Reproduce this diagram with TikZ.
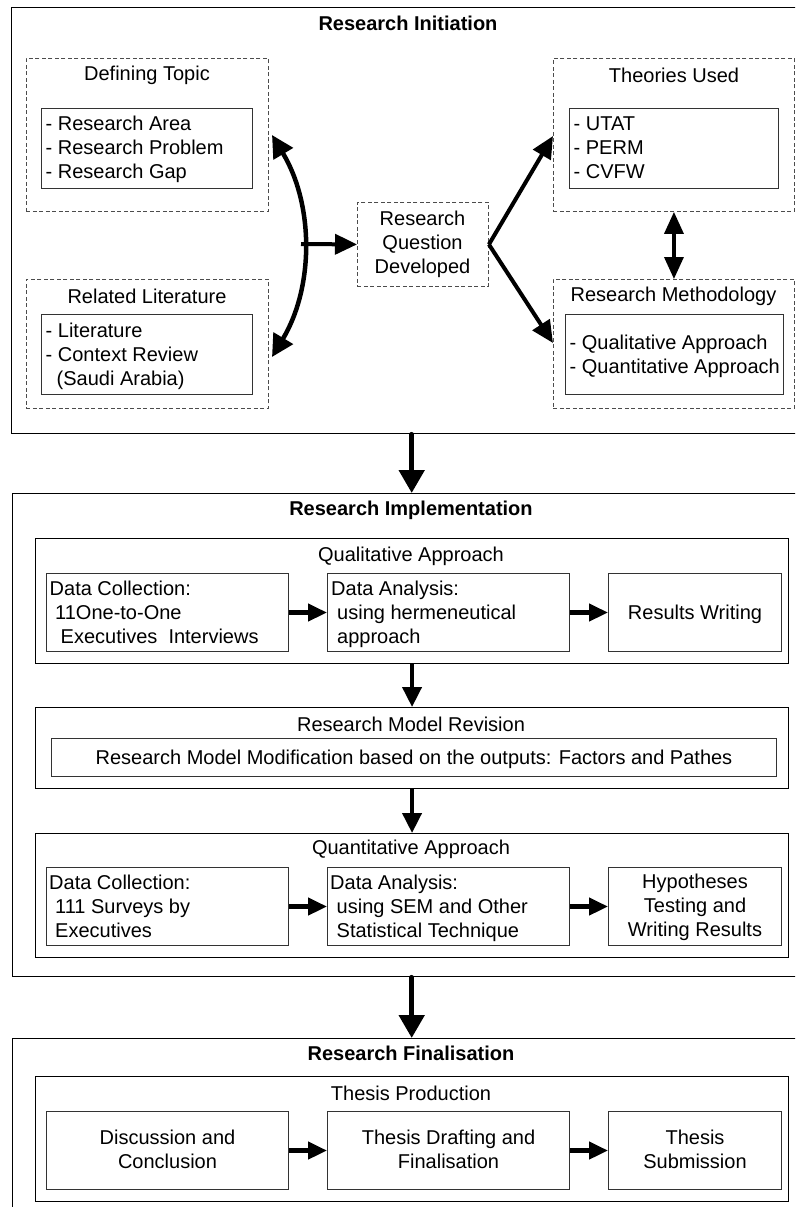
\documentclass[tikz,border=0pt]{standalone}
\usepackage{fontspec}
\setmainfont{Liberation Sans}
\usetikzlibrary{arrows.meta}
\begin{document}
\begin{tikzpicture}[x=1pt,y=-1pt,
  txt/.style={inner sep=0pt, yshift=-1.5pt, font=\fontsize{20}{24}\selectfont},
  ttl/.style={inner sep=0pt, yshift=-0.5pt, font=\fontsize{20}{24}\selectfont\bfseries},
  outer/.style={draw=black, line width=1.4pt, inner sep=0pt, anchor=north west},
  dbox/.style={draw=black!70, dash pattern=on 4pt off 2.5pt, line width=0.9pt, inner sep=0pt, anchor=north west},
  mbox/.style={draw=black, line width=1.1pt, inner sep=0pt, anchor=north west},
  ibox/.style={draw=black!80, line width=1pt, inner sep=0pt, anchor=north west},
  big/.style={line width=5pt, line cap=round, -{Triangle[width=25pt,length=23pt]}},
  marrow/.style={line width=4pt, -{Triangle[width=19pt,length=20pt]}},
  sarrow/.style={line width=4.5pt, -{Triangle[width=17pt,length=19pt]}},
  curvearrow/.style={line width=4.5pt, {Triangle[width=22pt,length=22pt]}-{Triangle[width=22pt,length=22pt]}},
  harrow/.style={line width=4pt, -{Triangle[width=20pt,length=22pt]}},
  darrow/.style={line width=3.5pt, {Triangle[width=19pt,length=22pt]}-{Triangle[width=19pt,length=22pt]}}
]
\useasboundingbox (0,0) rectangle (795,1207);
\clip (0,0) rectangle (795,1207);

% ---------------- Research Initiation ----------------
\node[outer, minimum width=800pt, minimum height=426pt] (ri) at (11,7) {};
\node[ttl] (rit) at (408,23) {Research Initiation};

\node[dbox, minimum width=242pt, minimum height=153pt] (dt) at (26,58) {};
\node[txt] (dtt) at (147,74) {Defining Topic};
\node[ibox, minimum width=211pt, minimum height=80pt] (dti) at (41,108) {};
\node[txt, align=left, anchor=west] (dtl) at (45.5,148) {\strut - Research Area\\\strut - Research Problem\\\strut - Research Gap};

\node[dbox, minimum width=242pt, minimum height=129pt] (rl) at (26,279) {};
\node[txt] (rlt) at (147,295) {Related Literature};
\node[ibox, minimum width=211pt, minimum height=80pt] (rli) at (41,314) {};
\node[txt, align=left, anchor=west] (rll) at (45.5,355) {\strut - Literature\\\strut - Context Review\\\strut\hspace*{11pt}(Saudi Arabia)};

\node[dbox, minimum width=131pt, minimum height=84pt] (rq) at (357,202) {};
\node[txt, align=center] (rqt) at (422.5,243) {\strut Research\\\strut Question\\\strut Developed};

\node[dbox, minimum width=241pt, minimum height=153pt] (tu) at (553,58) {};
\node[txt] (tut) at (674,74) {Theories Used};
\node[ibox, minimum width=209pt, minimum height=80pt] (tui) at (569,108) {};
\node[txt, align=left, anchor=west] (tul) at (573.5,148) {\strut - UTAT\\\strut - PERM\\\strut - CVFW};

\node[dbox, minimum width=241pt, minimum height=129pt] (rm) at (553,279) {};
\node[txt] (rmt) at (673.5,295) {Research Methodology};
\node[ibox, minimum width=218pt, minimum height=80pt] (rmi) at (565,314) {};
\node[txt, align=left, anchor=west] (rml) at (569.5,354.7) {\strut - Qualitative Approach\\\strut - Quantitative Approach};

\coordinate (c1) at (272,135);
\coordinate (c2) at (272,357);
\coordinate (cm) at (301,244);
\coordinate (tua) at (553,136);
\coordinate (rma) at (553,343);
\draw[curvearrow] (c1) .. controls (314,205) and (314,287) .. (c2);
\draw[harrow] (cm) -- (rq.west);
\draw[harrow] (rq.east) -- (tua);
\draw[harrow] (rq.east) -- (rma);
\draw[darrow] (tu.south) -- (rm.north);

% ---------------- Research Implementation ----------------
\node[outer, minimum width=798pt, minimum height=483pt] (rim) at (12,493) {};
\draw[big] (ri.south) -- (rim.north);
\node[ttl] (rimt) at (411,510) {Research Implementation};

\node[mbox, minimum width=753pt, minimum height=125pt] (ql) at (35,538) {};
\node[txt] (qlt) at (411,555) {Qualitative Approach};
\node[ibox, minimum width=242pt, minimum height=78pt] (q1) at (46,573) {};
\node[ibox, minimum width=242pt, minimum height=78pt] (q2) at (327,573) {};
\node[ibox, minimum width=173pt, minimum height=78pt] (q3) at (608,573) {};
\node[txt, align=left, anchor=west] (q1t) at (49.5,613) {\strut Data Collection:\\\strut\hspace*{5.5pt}11One-to-One\\\strut\hspace*{11pt}Executives\ \ Interviews};
\node[txt, align=left, anchor=west] (q2t) at (331,613) {\strut Data Analysis:\\\strut\hspace*{6pt}using hermeneutical\\\strut\hspace*{6pt}approach};
\node[txt] (q3t) at (q3.center) {Results Writing};
\draw[sarrow] (q1.east) -- (q2.west);
\draw[sarrow] (q2.east) -- (q3.west);

\node[mbox, minimum width=753pt, minimum height=81pt] (rmr) at (35,707) {};
\draw[marrow] (ql.south) -- (rmr.north);
\node[txt] (rmrt) at (411,723) {Research Model Revision};
\node[ibox, minimum width=725pt, minimum height=38pt] (rmri) at (51,738) {};
\node[txt] (rmrl) at (rmri.center) {Research Model Modification based on the outputs: Factors and Pathes};

\node[mbox, minimum width=753pt, minimum height=124pt] (qn) at (35,833) {};
\draw[marrow] (rmr.south) -- (qn.north);
\node[txt] (qnt) at (411,848) {Quantitative Approach};
\node[ibox, minimum width=242pt, minimum height=78pt] (n1) at (46,867) {};
\node[ibox, minimum width=242pt, minimum height=78pt] (n2) at (327,867) {};
\node[ibox, minimum width=173pt, minimum height=78pt] (n3) at (608,867) {};
\node[txt, align=left, anchor=west] (n1t) at (49,907) {\strut Data Collection:\\\strut\hspace*{6pt}111 Surveys by\\\strut\hspace*{6pt}Executives};
\node[txt, align=left, anchor=west] (n2t) at (330,907) {\strut Data Analysis:\\\strut\hspace*{6.5pt}using SEM and Other\\\strut\hspace*{6.5pt}Statistical Technique};
\node[txt, align=center] (n3t) at (n3.center) {\strut Hypotheses\\\strut Testing and\\\strut Writing Results};
\draw[sarrow] (n1.east) -- (n2.west);
\draw[sarrow] (n2.east) -- (n3.west);

% ---------------- Research Finalisation ----------------
\node[outer, minimum width=798pt, minimum height=200pt] (rf) at (12,1038) {};
\draw[big] (rim.south) -- (rf.north);
\node[ttl] (rft) at (411,1053) {Research Finalisation};

\node[mbox, minimum width=753pt, minimum height=125pt] (tp) at (35,1076) {};
\node[txt] (tpt) at (411,1092) {Thesis Production};
\node[ibox, minimum width=242pt, minimum height=78pt] (f1) at (46,1111) {};
\node[ibox, minimum width=242pt, minimum height=78pt] (f2) at (327,1111) {};
\node[ibox, minimum width=173pt, minimum height=78pt] (f3) at (608,1111) {};
\node[txt, align=center] (f1t) at (f1.center) {\strut Discussion and\\\strut Conclusion};
\node[txt, align=center] (f2t) at (f2.center) {\strut Thesis Drafting and\\\strut Finalisation};
\node[txt, align=center] (f3t) at (f3.center) {\strut Thesis\\\strut Submission};
\draw[sarrow] (f1.east) -- (f2.west);
\draw[sarrow] (f2.east) -- (f3.west);
\end{tikzpicture}
\end{document}
